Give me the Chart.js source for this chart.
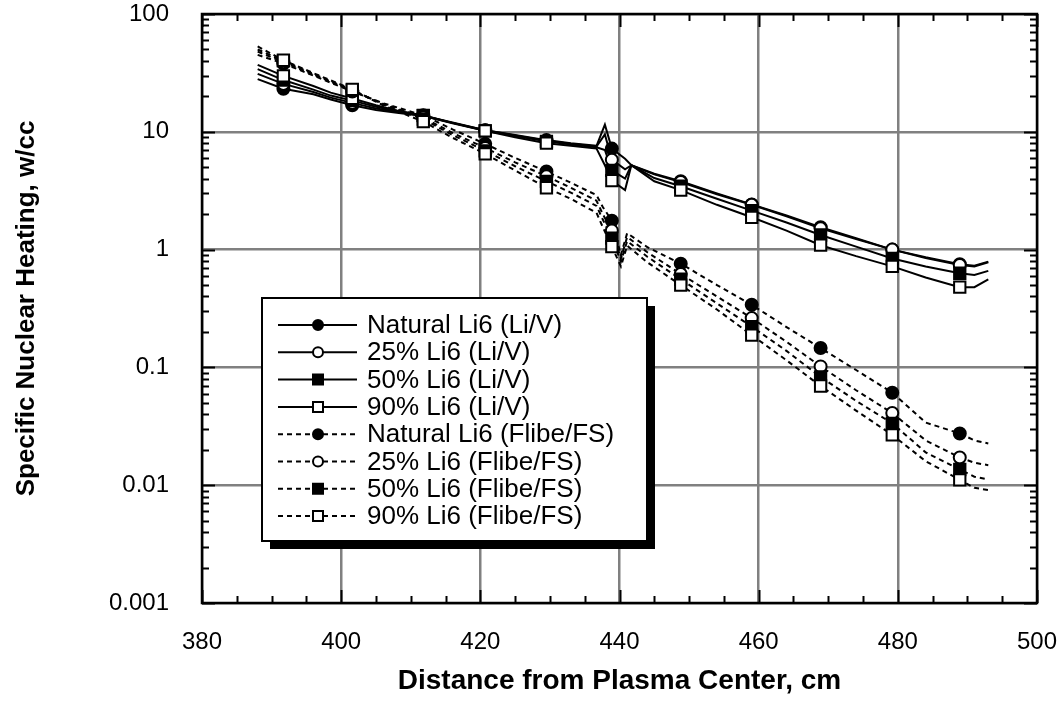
<!DOCTYPE html>
<html>
<head>
<meta charset="utf-8">
<script src="https://cdn.jsdelivr.net/npm/chart.js@4.4.0/dist/chart.umd.min.js"></script>
<style>
  html, body { margin: 0; padding: 0; background: #fff; }
</style>
</head>
<body>
<canvas id="myChart" width="1063" height="708"></canvas>
<script>
// x positions (cm) where the symbols sit
var markerX = [391.7, 401.6, 411.8, 420.7, 429.5, 438.9, 448.8, 459.0, 468.9, 479.2, 488.9];

// Li/V curves (fine mesh)
var xLiV = [388, 391.7, 396, 398.5, 401.6, 405, 408, 411.8, 416, 420.7, 425, 429.5, 433, 436.7, 437.9, 438.9,
            440.8, 441.7, 445, 448.8, 454, 459, 464, 468.9, 474, 479.2, 484, 488.9, 491, 493];
var liVNatural = [28, 23.2, 20.8, 18.8, 16.8, 15.3, 14.5, 13.6, 11.9, 10.3, 9.4, 8.5, 8.0, 7.6, 11.5, 7.2,
                  5.9, 5.2, 4.4, 3.8, 3.0, 2.42, 1.95, 1.55, 1.25, 1.0, 0.86, 0.75, 0.73, 0.79];
var liV25 = [31, 25.5, 21.8, 19.5, 17.6, 15.8, 14.8, 13.7, 12.0, 10.3, 9.3, 8.4, 7.9, 7.5, 9.5, 5.8,
             4.8, 5.2, 4.35, 3.75, 2.95, 2.4, 1.92, 1.52, 1.23, 1.0, 0.85, 0.74, 0.72, 0.78];
var liV50 = [34, 27.5, 22.8, 20.3, 18.4, 16.3, 15.0, 13.8, 11.9, 10.2, 9.2, 8.3, 7.8, 7.4, 7.0, 4.7,
             4.0, 5.2, 4.05, 3.45, 2.7, 2.14, 1.7, 1.33, 1.06, 0.84, 0.72, 0.63, 0.61, 0.66];
var liV90 = [37, 29.8, 24.5, 21.5, 19.2, 16.8, 15.2, 13.7, 11.8, 10.2, 9.0, 8.0, 7.6, 7.2, 5.2, 3.85,
             3.2, 5.2, 3.8, 3.2, 2.4, 1.88, 1.45, 1.09, 0.88, 0.72, 0.58, 0.48, 0.48, 0.56];

// Flibe/FS curves (fine mesh)
var xFlibe = [388, 391.7, 396, 401.6, 406, 411.8, 416, 420.7, 425, 429.5, 433, 436.7, 437.6, 438.9,
              440.2, 441.1, 444, 448.8, 454, 459, 464, 468.9, 474, 479.2, 484, 488.9, 491, 493];
var flibeNatural = [45, 38, 30, 22, 17.5, 13.8, 10.5, 7.9, 6.0, 4.6, 3.7, 2.9, 2.3, 1.76,
                    0.9, 1.38, 1.05, 0.76, 0.5, 0.34, 0.22, 0.146, 0.095, 0.061, 0.034, 0.0275, 0.024, 0.0226];
var flibe25 = [48, 39, 30.5, 22.3, 17.3, 13.2, 9.8, 7.3, 5.5, 4.2, 3.35, 2.6, 2.0, 1.45,
               0.84, 1.28, 0.95, 0.62, 0.4, 0.262, 0.165, 0.102, 0.064, 0.041, 0.024, 0.0172, 0.0155, 0.0148];
var flibe50 = [50, 40, 31, 22.6, 17.1, 12.8, 9.4, 6.9, 5.1, 3.8, 3.05, 2.35, 1.8, 1.25,
               0.79, 1.18, 0.87, 0.56, 0.35, 0.222, 0.138, 0.083, 0.052, 0.0335, 0.019, 0.0136, 0.0118, 0.0112];
var flibe90 = [53, 40.5, 31.5, 22.9, 16.8, 12.2, 8.9, 6.5, 4.7, 3.35, 2.7, 2.05, 1.55, 1.06,
               0.72, 1.08, 0.78, 0.5, 0.31, 0.188, 0.115, 0.0695, 0.043, 0.0267, 0.016, 0.0111, 0.0095, 0.0091];

// symbol values at markerX
var mLiVNatural = [23.2, 16.8, 13.6, 10.3, 8.5, 7.2, 3.8, 2.42, 1.55, 1.0, 0.75];
var mLiV25 = [25.5, 17.6, 13.7, 10.3, 8.4, 5.8, 3.75, 2.4, 1.52, 1.0, 0.74];
var mLiV50 = [27.5, 18.4, 13.8, 10.2, 8.3, 4.7, 3.45, 2.14, 1.33, 0.84, 0.63];
var mLiV90 = [29.8, 19.2, 13.7, 10.2, 8.0, 3.85, 3.2, 1.88, 1.09, 0.72, 0.48];
var mFlibeNatural = [38, 22, 13.8, 7.9, 4.6, 1.76, 0.76, 0.34, 0.146, 0.061, 0.0275];
var mFlibe25 = [39, 22.3, 13.2, 7.3, 4.2, 1.45, 0.62, 0.262, 0.102, 0.041, 0.0172];
var mFlibe50 = [40, 22.6, 12.8, 6.9, 3.8, 1.25, 0.56, 0.222, 0.083, 0.0335, 0.0136];
var mFlibe90 = [40.5, 22.9, 12.2, 6.5, 3.35, 1.06, 0.5, 0.188, 0.0695, 0.0267, 0.0111];

var yTicks = [0.001, 0.01, 0.1, 1, 10, 100];

var FONT = "'Liberation Sans', Arial, Helvetica, sans-serif";
var SOLID = [];
var DOTS = [5, 4];

var series = [
  { label: "Natural Li6 (Li/V)", x: xLiV, y: liVNatural, m: mLiVNatural, shape: "circle", fill: "#000", dash: SOLID },
  { label: "25% Li6 (Li/V)", x: xLiV, y: liV25, m: mLiV25, shape: "circle", fill: "#fff", dash: SOLID },
  { label: "50% Li6 (Li/V)", x: xLiV, y: liV50, m: mLiV50, shape: "rect", fill: "#000", dash: SOLID },
  { label: "90% Li6 (Li/V)", x: xLiV, y: liV90, m: mLiV90, shape: "rect", fill: "#fff", dash: SOLID },
  { label: "Natural Li6 (Flibe/FS)", x: xFlibe, y: flibeNatural, m: mFlibeNatural, shape: "circle", fill: "#000", dash: DOTS },
  { label: "25% Li6 (Flibe/FS)", x: xFlibe, y: flibe25, m: mFlibe25, shape: "circle", fill: "#fff", dash: DOTS },
  { label: "50% Li6 (Flibe/FS)", x: xFlibe, y: flibe50, m: mFlibe50, shape: "rect", fill: "#000", dash: DOTS },
  { label: "90% Li6 (Flibe/FS)", x: xFlibe, y: flibe90, m: mFlibe90, shape: "rect", fill: "#fff", dash: DOTS }
];

function pts(xs, ys) {
  return xs.map(function (x, i) { return { x: x, y: ys[i] }; });
}

var datasets = [];
series.forEach(function (s, i) {
  datasets.push({
    data: pts(s.x, s.y),
    showLine: true,
    borderColor: "#000",
    borderWidth: 2,
    borderDash: s.dash,
    pointRadius: 0,
    fill: false,
    order: 100 - i
  });
  datasets.push({
    data: pts(markerX, s.m),
    showLine: false,
    pointStyle: s.shape,
    pointRadius: s.shape === "rect" ? 8 : 6,
    pointBackgroundColor: s.fill,
    pointBorderColor: "#000",
    pointBorderWidth: 2,
    order: 50 - i
  });
});

// inward tick marks + full frame
var frame = {
  id: "frame",
  afterDatasetsDraw: function (chart) {
    var ctx = chart.ctx, a = chart.chartArea;
    var xs = chart.scales.x, ys = chart.scales.y;
    ctx.save();
    ctx.strokeStyle = "#000";
    ctx.lineWidth = 2;
    ctx.beginPath();
    for (var v = 380; v <= 500; v += 5) {
      var px = Math.round(xs.getPixelForValue(v)) + 0.5;
      var len = v % 20 === 0 ? 13 : 7;
      ctx.moveTo(px, a.bottom); ctx.lineTo(px, a.bottom - len);
      ctx.moveTo(px, a.top); ctx.lineTo(px, a.top + len);
    }
    for (var e = -3; e <= 2; e++) {
      for (var m = 1; m <= 9; m++) {
        if (e === 2 && m > 1) break;
        var py = Math.round(ys.getPixelForValue(m * Math.pow(10, e))) + 0.5;
        var l = m === 1 ? 13 : 7;
        ctx.moveTo(a.left, py); ctx.lineTo(a.left + l, py);
        ctx.moveTo(a.right, py); ctx.lineTo(a.right - l, py);
      }
    }
    ctx.stroke();
    ctx.lineWidth = 2.5;
    ctx.strokeRect(a.left, a.top, a.right - a.left, a.bottom - a.top);
    ctx.restore();
  }
};

function drawSymbol(ctx, shape, fill, x, y) {
  ctx.setLineDash([]);
  ctx.fillStyle = fill;
  ctx.lineWidth = 2;
  ctx.beginPath();
  if (shape === "circle") ctx.arc(x, y, 5, 0, Math.PI * 2);
  else ctx.rect(x - 5, y - 5, 10, 10);
  ctx.fill();
  ctx.stroke();
}

// boxed legend with drop shadow
var boxLegend = {
  id: "boxLegend",
  afterDraw: function (chart) {
    var ctx = chart.ctx, a = chart.chartArea;
    var left = a.left + 60, top = a.top + 284, w = 385, h = 243;
    ctx.save();
    ctx.fillStyle = "#000";
    ctx.fillRect(left + 8, top + 8, w, h);
    ctx.fillStyle = "#fff";
    ctx.fillRect(left, top, w, h);
    ctx.strokeStyle = "#000";
    ctx.lineWidth = 2;
    ctx.strokeRect(left, top, w, h);
    ctx.font = "26px " + FONT;
    ctx.textBaseline = "middle";
    series.forEach(function (s, i) {
      var y = top + 27 + i * 27.3;
      ctx.strokeStyle = "#000";
      ctx.lineWidth = 2;
      ctx.setLineDash(s.dash);
      ctx.beginPath();
      ctx.moveTo(left + 16, y);
      ctx.lineTo(left + 95, y);
      ctx.stroke();
      drawSymbol(ctx, s.shape, s.fill, left + 56, y);
      ctx.fillStyle = "#000";
      ctx.fillText(s.label, left + 105, y + 1);
    });
    ctx.restore();
  }
};

new Chart("myChart", {
  type: "scatter",
  data: { datasets: datasets },
  options: {
    responsive: false,
    animation: false,
    devicePixelRatio: 1,
    events: [],
    layout: { padding: { top: 14, right: 26, bottom: 0, left: 0 } },
    plugins: {
      legend: { display: false },
      tooltip: { enabled: false }
    },
    scales: {
      x: {
        type: "linear",
        min: 380,
        max: 500,
        ticks: {
          stepSize: 20,
          color: "#000",
          padding: 25,
          maxRotation: 0,
          font: { family: FONT, size: 24 }
        },
        grid: { color: "#808080", lineWidth: 2.5, drawTicks: false },
        border: { display: false },
        title: {
          display: true,
          text: "Distance from Plasma Center, cm",
          color: "#000",
          font: { family: FONT, size: 28, weight: "bold" },
          padding: { top: 0, bottom: 10 }
        },
        afterFit: function (s) {
          s.height = 105;
          s.paddingLeft = 0;
          s.paddingRight = 0;
        }
      },
      y: {
        type: "logarithmic",
        min: 0.001,
        max: 100,
        afterBuildTicks: function (s) {
          s.ticks = yTicks.map(function (v) { return { value: v, major: true }; });
        },
        ticks: {
          color: "#000",
          padding: 33,
          font: { family: FONT, size: 24 },
          callback: function (v) { return String(v); }
        },
        grid: { color: "#808080", lineWidth: 2.5, drawTicks: false },
        border: { display: false },
        title: {
          display: true,
          text: "Specific Nuclear Heating, w/cc",
          color: "#000",
          font: { family: FONT, size: 26, weight: "bold" },
          padding: { top: 11, bottom: 0 }
        },
        afterFit: function (s) {
          s.width = 202;
          s.paddingTop = 0;
          s.paddingBottom = 0;
        }
      }
    }
  },
  plugins: [frame, boxLegend]
});
</script>
</body>
</html>
